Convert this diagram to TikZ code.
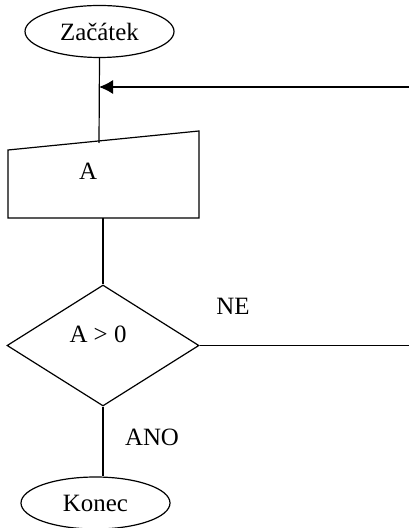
\documentclass[tikz,border=0pt]{standalone}
\usepackage{fontspec}
\setmainfont{Liberation Serif}
\usepackage{tikz}
\usetikzlibrary{arrows.meta,shapes.geometric}

\begin{document}
\begin{tikzpicture}[x=0.5bp, y=-0.5bp, line width=0.6bp,
  >={Latex[length=7bp,width=7bp]},
  every node/.style={font=\fontsize{12.5}{15}\selectfont},
  terminal/.style={draw, ellipse, inner sep=0pt, minimum width=74.5bp, minimum height=26bp},
  decision/.style={draw, diamond, inner sep=0pt, minimum width=96bp, minimum height=60.5bp}]
  \useasboundingbox (0,0) rectangle (409,528);
  % States
  \node[terminal] (zac) at (99.5, 31.5) {Začátek};

  \node (vstup) at (88, 171) {A};
  \draw (8,150) -- (199,131) -- (199,218) -- (8,218) -- cycle;
  \coordinate (vstupTop) at (99, 143);
  \coordinate (vstupBot) at (103, 218);

  \node[decision] (rozh) at (103, 345.5) {};
  \node (podm) at (98, 334) {A > 0};

  \node[terminal] (konec) at (95.5, 503) {Konec};

  \coordinate (spoj) at (99, 87);
  \coordinate (zpet) at (409, 87);
  \coordinate (nekonec) at (409, 345.5);

  \node (ne) at (233, 306) {NE};
  \node (ano) at (152, 437) {ANO};
  % Edges
  \draw (zac.south) -- (vstupTop);
  \draw[->] (zpet) -- (spoj);
  \draw (vstupBot) -- (rozh.north);
  \draw (rozh.east) -- (nekonec);
  \draw (rozh.south) -- (rozh.south |- konec.north);
\end{tikzpicture}
\end{document}
